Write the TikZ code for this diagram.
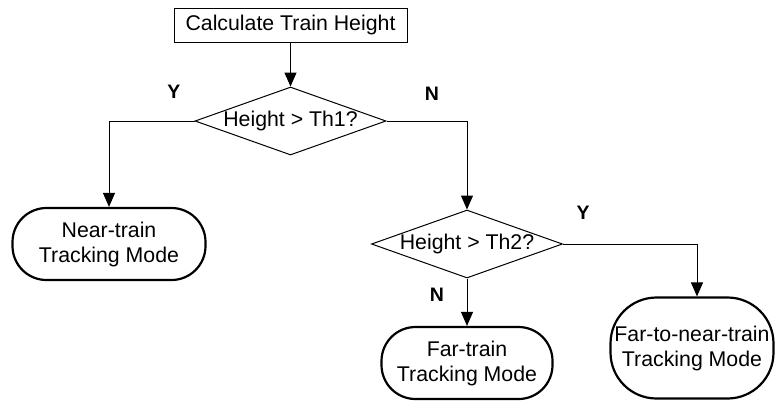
\documentclass[tikz,border=0pt]{standalone}
\usepackage{fontspec}
\setmainfont{Liberation Sans}
\usetikzlibrary{shapes.geometric,arrows.meta}
\begin{document}
\begin{tikzpicture}[x=1pt,y=-1pt,
  every node/.style={font=\fontsize{21.3}{25}\selectfont, inner sep=0pt, align=center},
  procbox/.style={draw, line width=1pt, rectangle, minimum width=233pt, minimum height=34pt},
  decision/.style={draw, line width=1pt, diamond, aspect=2.8, minimum width=191pt, minimum height=68pt},
  terminal/.style={draw, line width=2.2pt, rectangle, rounded corners=34pt},
  flow/.style={line width=1pt, -{Triangle[length=14pt,width=12pt]}},
  answer/.style={font=\fontsize{19.5}{22}\selectfont\bfseries}
]
\useasboundingbox (0,0) rectangle (775,400);

% process step and the two threshold tests
\node[procbox] (calc) at (290.5,25) {Calculate Train Height};
\node[decision] (th1) at (290.5,121) {Height > Th1?};
\node[decision] (th2) at (467,244) {Height > Th2?};

% the three tracking modes
\node[terminal, minimum width=193pt, minimum height=72pt] (near) at (109,244) {Near-train\\Tracking Mode};
\node[terminal, minimum width=171pt, minimum height=72pt] (far) at (467,363) {Far-train\\Tracking Mode};
\node[terminal, rounded corners=46pt, minimum width=163pt, minimum height=101pt] (ftn) at (692,348) {Far-to-near-train\\Tracking Mode};

% branch labels
\node[answer] (y1) at (174,92) {Y};
\node[answer] (n1) at (432,94) {N};
\node[answer] (y2) at (583,213) {Y};
\node[answer] (n2) at (437,295) {N};

% connectors
\draw[flow] (calc.south) -- (th1.north);
\draw[flow] (th1.west) -| (near.north);
\draw[flow] (th1.east) -| (th2.north);
\draw[flow] (th2.south) -- (far.north);
\draw[flow] (th2.east) -| ([xshift=5pt]ftn.north);
\end{tikzpicture}
\end{document}
